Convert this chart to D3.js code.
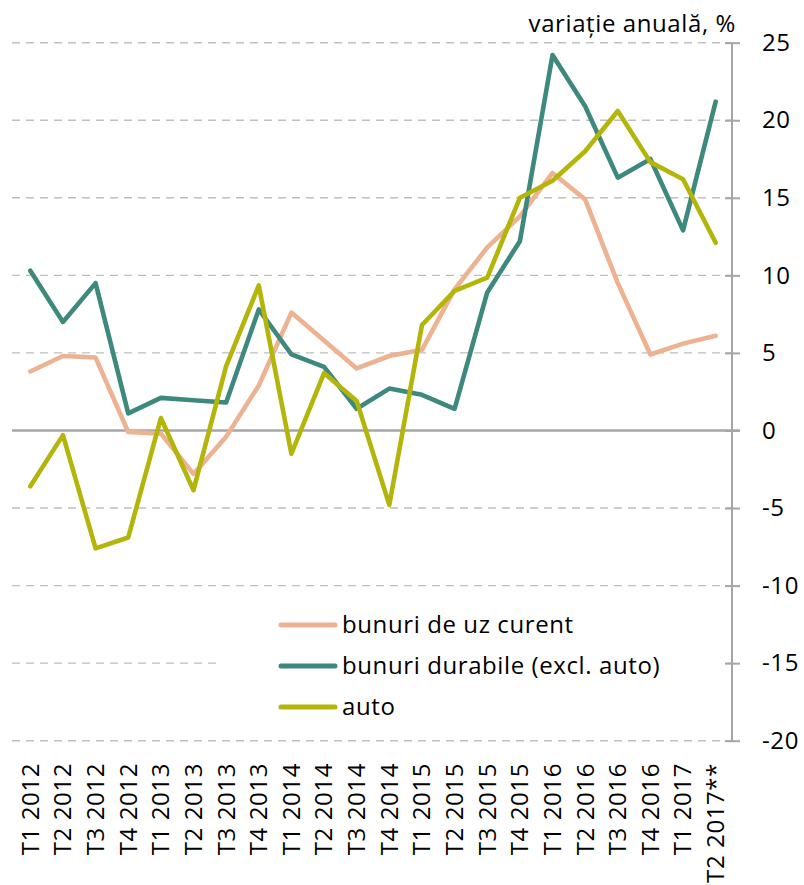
<!DOCTYPE html>
<html>
<head>
<meta charset="utf-8">
<script src="https://cdn.jsdelivr.net/npm/d3@7"></script>
<style>
  body { margin: 0; background: #fff; }
  text { font-family: "Open Sans", Lato, sans-serif; fill: #000; letter-spacing: 0.6px; }
</style>
</head>
<body>
<div id="chart"></div>
<script>
'use strict';

var quarters = ['T1 2012','T2 2012','T3 2012','T4 2012',
                'T1 2013','T2 2013','T3 2013','T4 2013',
                'T1 2014','T2 2014','T3 2014','T4 2014',
                'T1 2015','T2 2015','T3 2015','T4 2015',
                'T1 2016','T2 2016','T3 2016','T4 2016',
                'T1 2017','T2 2017**'];

var uzCurent  = [3.8, 4.8, 4.7, -0.1, -0.2, -2.8, -0.4, 2.9, 7.6, 5.8, 4.0, 4.8,
                 5.2, 9.1, 11.8, 13.8, 16.6, 14.9, 9.5, 4.9, 5.6, 6.1];
var durabile  = [10.3, 7.0, 9.5, 1.1, 2.1, 1.95, 1.8, 7.8, 4.9, 4.1, 1.4, 2.7,
                 2.3, 1.4, 8.9, 12.2, 24.2, 20.9, 16.3, 17.5, 12.9, 21.2];
var auto      = [-3.6, -0.3, -7.6, -6.9, 0.8, -3.85, 4.15, 9.35, -1.5, 3.7, 1.9, -4.8,
                 6.8, 9.0, 9.85, 15.0, 16.1, 18.0, 20.6, 17.3, 16.2, 12.1];

var yTicks = [25, 20, 15, 10, 5, 0, -5, -10, -15, -20];

var seriesNames  = ['bunuri de uz curent', 'bunuri durabile (excl. auto)', 'auto'];
var seriesColors = ['#EDB291', '#3E897D', '#B4B50B'];

function lineChart()
{
    var scope = this;
    var exports = {};

    scope.width  = 804;
    scope.height = 885;
    scope.font   = '24px';
    scope.xScale = undefined;
    scope.yScale = undefined;
    scope.series = undefined;

    scope.appendSvg = function(div)
    {
        return d3.select(div).append('svg')
            .attr('width', scope.width)
            .attr('height', scope.height);
    }

    scope.createScales = function()
    {
        scope.xScale = d3.scalePoint().domain(quarters).range([14, 732]).padding(0.5);
        scope.yScale = d3.scaleLinear().domain([-20, 25]).range([740.7, 42.7]);
    }

    scope.appendGrid = function(svg)
    {
        svg.append('g').selectAll('line')
            .data(yTicks.filter(function(d) { return d !== 0; }))
            .enter().append('line')
            .attr('x1', 12).attr('x2', 740)
            .attr('y1', function(d) { return scope.yScale(d); })
            .attr('y2', function(d) { return scope.yScale(d); })
            .attr('stroke', '#BFBFBF')
            .attr('stroke-width', 1.4)
            .attr('stroke-dasharray', '8,6');

        // zero line
        svg.append('line')
            .attr('x1', 12).attr('x2', 740)
            .attr('y1', scope.yScale(0)).attr('y2', scope.yScale(0))
            .attr('stroke', '#A6A6A6')
            .attr('stroke-width', 2.4);
    }

    scope.appendLegend = function(svg)
    {
        svg.append('rect')
            .attr('x', 216).attr('y', 598)
            .attr('width', 511).attr('height', 136)
            .attr('fill', '#fff');

        var item = svg.append('g').selectAll('g')
            .data(seriesNames)
            .enter().append('g')
            .attr('transform', function(d, i) { return 'translate(0,' + (625 + i * 41) + ')'; });

        item.append('line')
            .attr('x1', 281).attr('x2', 335)
            .attr('stroke', function(d, i) { return seriesColors[i]; })
            .attr('stroke-width', 5)
            .attr('stroke-linecap', 'round');

        item.append('text')
            .attr('x', 342)
            .attr('dy', '0.35em')
            .style('font-size', scope.font)
            .text(function(d) { return d; });
    }

    scope.appendAxes = function(svg)
    {
        var axis = svg.append('g')
            .attr('transform', 'translate(732,0)')
            .call(d3.axisRight(scope.yScale).tickValues(yTicks).tickSize(8).tickPadding(22)
                .tickFormat(function(d) { return d; }));

        axis.select('.domain')
            .attr('d', 'M0,' + scope.yScale(25) + 'V' + scope.yScale(-20))
            .attr('stroke', '#A6A6A6').attr('stroke-width', 2);
        axis.selectAll('.tick line')
            .attr('x1', -7).attr('x2', 8)
            .attr('stroke', '#A6A6A6').attr('stroke-width', 2);
        axis.selectAll('.tick text')
            .attr('fill', '#000')
            .style('font-family', '"Open Sans", Lato, sans-serif')
            .style('font-size', scope.font);

        svg.append('g').selectAll('text')
            .data(quarters)
            .enter().append('text')
            .attr('transform', function(d) { return 'translate(' + scope.xScale(d) + ',763) rotate(-90)'; })
            .attr('dy', '0.35em')
            .style('text-anchor', 'end')
            .style('font-size', scope.font)
            .text(function(d) { return d; });

        svg.append('text')
            .attr('x', 736).attr('y', 32)
            .style('text-anchor', 'end')
            .style('font-size', scope.font)
            .text('variație anuală, %');
    }

    scope.appendLines = function(svg)
    {
        var line = d3.line()
            .x(function(d, i) { return scope.xScale(quarters[i]); })
            .y(function(d) { return scope.yScale(d); });

        svg.append('g').selectAll('path')
            .data(scope.series)
            .enter().append('path')
            .attr('d', function(d) { return line(d); })
            .attr('fill', 'none')
            .attr('stroke', function(d, i) { return seriesColors[i]; })
            .attr('stroke-width', 4.6)
            .attr('stroke-linejoin', 'round')
            .attr('stroke-linecap', 'round');
    }

    exports.run = function(div)
    {
        scope.series = [uzCurent, durabile, auto];
        var svg = scope.appendSvg(div);
        scope.createScales();
        scope.appendGrid(svg);
        scope.appendLegend(svg);
        scope.appendAxes(svg);
        scope.appendLines(svg);
    }

    return exports;
}

new lineChart().run('#chart');
</script>
</body>
</html>
